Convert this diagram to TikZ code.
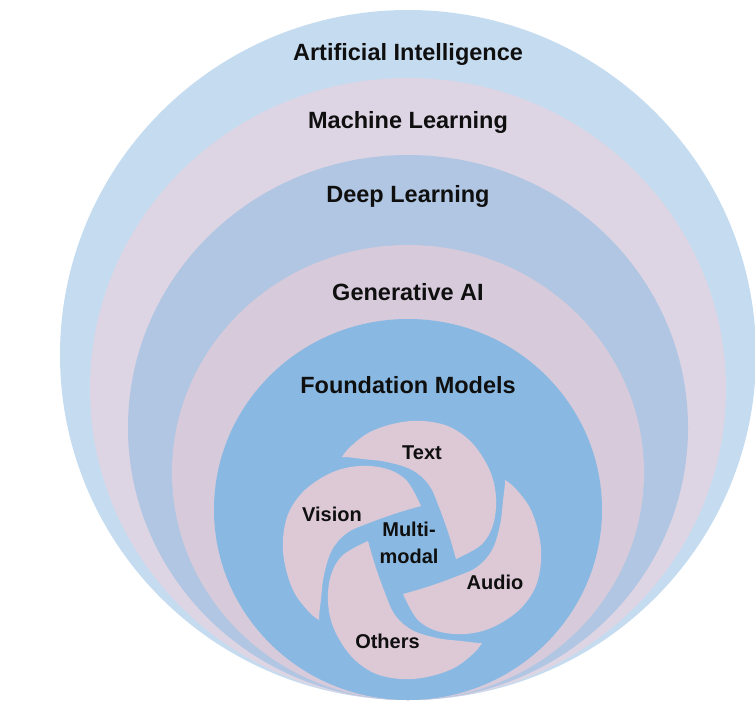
\documentclass[tikz,border=0pt]{standalone}
\usepackage{fontspec}
\setmainfont{Liberation Sans}
\definecolor{aiC}{RGB}{197,220,240}
\definecolor{mlC}{RGB}{221,212,228}
\definecolor{dlC}{RGB}{176,198,226}
\definecolor{gaC}{RGB}{215,202,218}
\definecolor{fmC}{RGB}{137,185,226}
\definecolor{petalC}{RGB}{221,200,214}
\definecolor{txtC}{RGB}{15,15,15}
\begin{document}
\begin{tikzpicture}[x=1pt,y=-1pt,
  biglabel/.style={anchor=base,inner sep=0pt,text=txtC,font=\fontsize{23.5}{28}\selectfont\bfseries},
  smalllabel/.style={anchor=base,inner sep=0pt,text=txtC,font=\fontsize{20}{27}\selectfont\bfseries},
  petal/.style={fill=petalC}]
\useasboundingbox (0,0) rectangle (755,712);
\clip (0,0) rectangle (755,712);
\fill[white] (0,0) rectangle (755,712);
% nested regions
\fill[aiC] (408,355) ellipse [x radius=348, y radius=345];
\fill[mlC] (408,389) ellipse [x radius=318, y radius=311];
\fill[dlC] (408,427.5) ellipse [x radius=280, y radius=272.5];
\fill[gaC] (408,472.5) ellipse [x radius=236, y radius=227.5];
\fill[fmC] (408,509.5) ellipse [x radius=194, y radius=190.5];
% pinwheel
\begin{scope}[shift={(412,550)}]
\foreach \a in {0,-90,-180,-270} {
  \fill[petal, rotate=\a]
    plot[smooth, tension=0.6] coordinates {(-70,-93) (-62,-103) (-42,-118) (-15,-127) (11,-129) (38,-123) (61,-106) (78,-79) (84,-52) (81,-25) (69,-5) (44,9)}
    -- plot[smooth, tension=0.6] coordinates {(44,9) (37,-15) (27,-43) (17,-65) (0,-80) (-25,-88) (-49,-91) (-66,-93)}
    -- cycle;
}
\end{scope}
% labels
\node[biglabel] (ai) at (408,60) {Artificial Intelligence};
\node[biglabel] (ml) at (408,128) {Machine Learning};
\node[biglabel] (dl) at (408,202) {Deep Learning};
\node[biglabel] (ga) at (408,300) {Generative AI};
\node[biglabel] (fm) at (408,393.5) {Foundation Models};
\node[smalllabel] (text) at (422,459) {Text};
\node[smalllabel] (vision) at (332,521) {Vision};
\node[smalllabel] (audio) at (495,589) {Audio};
\node[smalllabel] (others) at (387.5,648) {Others};
\node[smalllabel] (mm1) at (409,536) {Multi-};
\node[smalllabel] (mm2) at (409,563) {modal};
\end{tikzpicture}
\end{document}
